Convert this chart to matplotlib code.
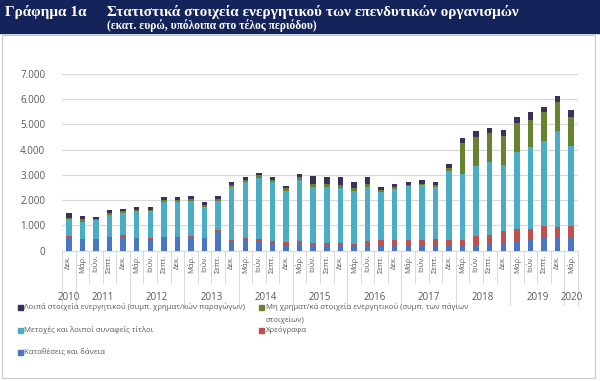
import matplotlib
matplotlib.use("Agg")
import matplotlib.pyplot as plt
import matplotlib.transforms as mtransforms
from matplotlib.patches import Rectangle
import numpy as np

# quarterly data, Dec 2010 - Mar 2020 (EUR million)
months = ["Δεκ."] + ["Μάρ.", "Ιούν.", "Σεπτ.", "Δεκ."] * 9 + ["Μάρ."]
years = ["2010", "2011", "2012", "2013", "2014", "2015", "2016", "2017", "2018", "2019", "2020"]
year_n = [1, 4, 4, 4, 4, 4, 4, 4, 4, 4, 1]

deposits = [530, 423, 423, 490, 555, 490, 463, 516, 516, 530, 490, 780, 384, 423, 384, 291, 225, 250, 160,
            185, 160, 160, 212, 212, 200, 185, 212, 212, 212, 212, 225, 291, 317, 357, 423, 529, 489, 489]
securities = [30, 20, 15, 40, 40, 25, 20, 25, 25, 30, 20, 20, 40, 60, 80, 90, 100, 110, 157,
              106, 130, 105, 172, 185, 223, 215, 211, 238, 211, 211, 357, 331, 437, 490, 424, 450, 437, 490]
shares = [683, 707, 762, 885, 885, 1035, 1067, 1364, 1364, 1384, 1210, 1144, 2076, 2215, 2406, 2317, 2043, 2430, 2196,
          2222, 2184, 2076, 2116, 1918, 2011, 2140, 2156, 2063, 2737, 2619, 2751, 2870, 2632, 3055, 3254, 3373, 3796, 3148]
nonfin = [50, 90, 50, 85, 80, 70, 70, 85, 85, 86, 80, 106, 100, 92, 120, 102, 102, 110, 133,
          107, 126, 133, 146, 66, 86, 60, 71, 77, 107, 1217, 1164, 1164, 1164, 1151, 1084, 1137, 1151, 1164]
other = [186, 136, 60, 87, 80, 86, 86, 126, 126, 113, 105, 120, 112, 107, 79, 110, 96, 130, 317,
         277, 297, 238, 277, 132, 112, 112, 128, 135, 172, 199, 225, 198, 238, 225, 304, 199, 238, 265]

labels = ["Λοιπά στοιχεία ενεργητικού (συμπ. χρηματ/κών παραγώγων)",
          "Μη χρηματ/κά στοιχεία ενεργητικού (συμπ. των πάγιων\nστοιχείων)",
          "Μετοχές και λοιποί συναφείς τίτλοι",
          "Χρεόγραφα",
          "Καταθέσεις και δάνεια"]

c_dep = "#4a76c2"
c_sec = "#c0504d"
c_sha = "#4bacc6"
c_nf = "#67832f"
c_oth = "#3b3158"
grey = "#595959"

plt.rcParams['font.family'] = ['Open Sans', 'DejaVu Sans']

W, H = 600, 381
fig = plt.figure(figsize=(6, 3.81), dpi=100)

def fx(px):
    return px / W

def fy(py):
    return 1 - py / H

# header banner and frame
fig.add_artist(Rectangle((0, fy(33)), 1, 33 / H, transform=fig.transFigure, color="#14245a", zorder=0))
fig.add_artist(Rectangle((fx(2), fy(378)), fx(593), (378 - 35) / H, transform=fig.transFigure,
                         facecolor="white", edgecolor="#c8c8c8", lw=0.8, zorder=0))
fig.text(fx(5), fy(12), "Γράφημα 1α", color="white", fontsize=11, fontweight="bold",
         family="Liberation Serif", va="center")
fig.text(fx(107), fy(12), "Στατιστικά στοιχεία ενεργητικού των επενδυτικών οργανισμών", color="white",
         fontsize=11, fontweight="bold", family="Liberation Serif", va="center")
fig.text(fx(107), fy(26), "(εκατ. ευρώ, υπόλοιπα στο τέλος περιόδου)", color="white",
         fontsize=8.3, fontweight="bold", family="Liberation Serif", va="center")

ax = fig.add_axes([fx(62), fy(250.5), fx(578 - 62), (250.5 - 74) / H])

x = np.arange(len(months))
w = 0.4
b = np.zeros(len(x))
for vals, col in [(deposits, c_dep), (securities, c_sec), (shares, c_sha), (nonfin, c_nf), (other, c_oth)]:
    ax.bar(x, vals, w, bottom=b, color=col, zorder=3)
    b = b + np.array(vals)

ax.set_xlim(-0.5, len(x) - 0.5)
ax.set_ylim(0, 7000)
ax.set_yticks(np.arange(0, 7001, 1000))
ax.set_yticklabels([f"{v:,}".replace(",", ".") for v in range(0, 7001, 1000)])
ax.grid(axis="y", color="#d9d9d9", lw=0.9, zorder=0)
for s in ["top", "right", "left"]:
    ax.spines[s].set_visible(False)
ax.spines["bottom"].set_color("#d9d9d9")
ax.tick_params(axis="y", length=0, labelsize=7, labelcolor=grey, pad=12)
ax.set_xticks(x)
ax.set_xticklabels(months, rotation=90, fontsize=5.5, color=grey)
ax.tick_params(axis="x", length=0, pad=3)

# multi-level category axis separators and year labels
tr = mtransforms.blended_transform_factory(ax.transData, ax.transAxes)
axh = 250.5 - 74
for i in range(len(x) + 1):
    ax.plot([i - 0.5, i - 0.5], [0, -32 / axh], transform=tr, color="#d9d9d9", lw=0.7, clip_on=False)
start = 0
for yr, n in zip(years, year_n):
    ax.plot([start - 0.5, start - 0.5], [0, -54 / axh], transform=tr, color="#d9d9d9", lw=0.7, clip_on=False)
    ax.text(start + (n - 1) / 2, -(298 - 250.5) / axh, yr, transform=tr, ha="center", va="center",
            fontsize=7, color=grey)
    start += n
ax.plot([start - 0.5, start - 0.5], [0, -54 / axh], transform=tr, color="#d9d9d9", lw=0.7, clip_on=False)

# legend
leg = [(labels[0], c_oth, 18, 307), (labels[1], c_nf, 259, 307),
       (labels[2], c_sha, 18, 330), (labels[3], c_sec, 259, 330),
       (labels[4], c_dep, 18, 352)]
for txt, col, lx, ly in leg:
    fig.add_artist(Rectangle((fx(lx), fy(ly + 2.5)), fx(4.5), 4.5 / H, transform=fig.transFigure,
                             color=col))
    for k, line in enumerate(txt.split("\n")):
        fig.text(fx(lx + 6.5), fy(ly + 12.5 * k), line, fontsize=5.6, color=grey, va="center")

fig.savefig("out.png", dpi=100)
